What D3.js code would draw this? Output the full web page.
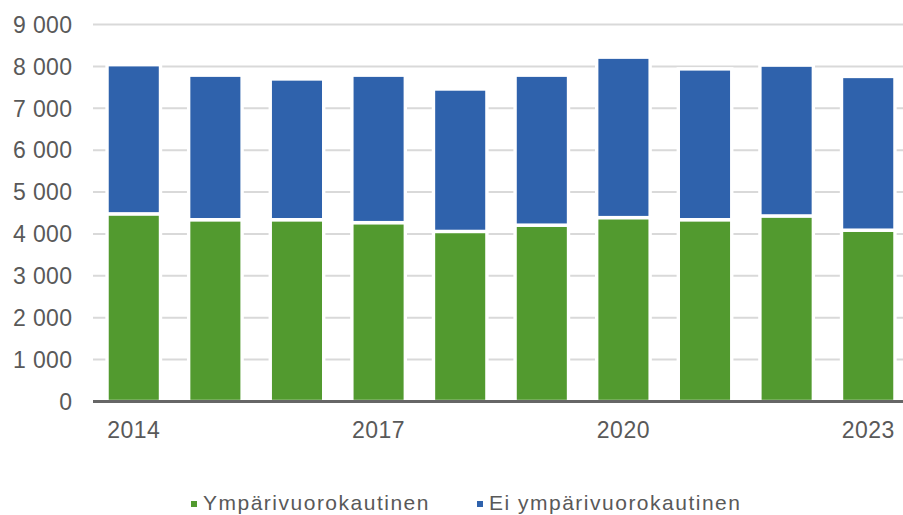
<!DOCTYPE html>
<html>
<head>
<meta charset="utf-8">
<script src="https://cdn.jsdelivr.net/npm/d3@7"></script>
<style>
  html, body { margin: 0; padding: 0; background: #fff; }
  svg { display: block; font-family: "Liberation Sans", Arial, sans-serif; }
</style>
</head>
<body>
<div id="chart"></div>
<script>
// data
const years = ["2014", "2015", "2016", "2017", "2018", "2019", "2020", "2021", "2022", "2023"];
const ymparivuorokautinen = [4480, 4340, 4340, 4270, 4060, 4210, 4390, 4340, 4430, 4090];
const eiYmparivuorokautinen = [3560, 3450, 3360, 3520, 3400, 3580, 3830, 3600, 3600, 3670];
const seriesNames = ["Ympärivuorokautinen", "Ei ympärivuorokautinen"];
const colors = ["#529a2f", "#2f62ac"];
const yTicks = [0, 1000, 2000, 3000, 4000, 5000, 6000, 7000, 8000, 9000];
const shownYears = ["2014", "2017", "2020", "2023"];

const width = 903, height = 515;

const svg = d3.select("#chart").append("svg")
  .attr("width", width)
  .attr("height", height);

const x = d3.scaleBand()
  .domain(years)
  .range([93, 909])
  .paddingInner(0.345)
  .paddingOuter(0.172);

const y = d3.scaleLinear()
  .domain([0, 9000])
  .range([401.5, 24.5]);

// gridlines
svg.append("g")
  .selectAll("line")
  .data(yTicks.filter(d => d > 0))
  .join("line")
  .attr("x1", 93).attr("x2", width)
  .attr("y1", d => y(d)).attr("y2", d => y(d))
  .attr("stroke", "#d9d9d9")
  .attr("stroke-width", 2);

// stack the two series
const rows = years.map((yr, i) => ({ year: yr, a: ymparivuorokautinen[i], b: eiYmparivuorokautinen[i] }));
const stacked = d3.stack().keys(["a", "b"])(rows);

svg.append("g")
  .selectAll("g")
  .data(stacked)
  .join("g")
  .attr("fill", (d, i) => colors[i])
  .selectAll("rect")
  .data(d => d)
  .join("rect")
  .attr("x", d => x(d.data.year))
  .attr("width", x.bandwidth())
  .attr("y", d => y(d[1]))
  .attr("height", d => y(d[0]) - y(d[1]))
  .attr("stroke", "#fff")
  .attr("stroke-width", 3.4);

// x axis line
svg.append("line")
  .attr("x1", 93).attr("x2", width)
  .attr("y1", y(0)).attr("y2", y(0))
  .attr("stroke", "#666")
  .attr("stroke-width", 3);

// y tick labels
svg.append("g")
  .selectAll("text")
  .data(yTicks)
  .join("text")
  .attr("x", 72.5)
  .attr("y", d => y(d))
  .attr("dy", "0.36em")
  .attr("text-anchor", "end")
  .attr("font-size", 23)
  .attr("letter-spacing", 0.4)
  .attr("fill", "#595959")
  .text(d => d3.format(",")(d).replace(/,/g, " "));

// x tick labels, only every third year
svg.append("g")
  .selectAll("text")
  .data(shownYears)
  .join("text")
  .attr("x", d => x(d) + x.bandwidth() / 2)
  .attr("y", 437.5)
  .attr("text-anchor", "middle")
  .attr("font-size", 23)
  .attr("letter-spacing", 0.5)
  .attr("fill", "#595959")
  .text(d => d);

// legend
const legendX = [191, 477];
const legend = svg.append("g")
  .selectAll("g")
  .data(seriesNames)
  .join("g")
  .attr("transform", (d, i) => `translate(${legendX[i]},0)`);

legend.append("rect")
  .attr("x", 0).attr("y", 501)
  .attr("width", 6).attr("height", 6)
  .attr("fill", (d, i) => colors[i]);

legend.append("text")
  .attr("x", 12)
  .attr("y", 510)
  .attr("font-size", 21)
  .attr("letter-spacing", 1.5)
  .attr("fill", "#595959")
  .text(d => d);
</script>
</body>
</html>
